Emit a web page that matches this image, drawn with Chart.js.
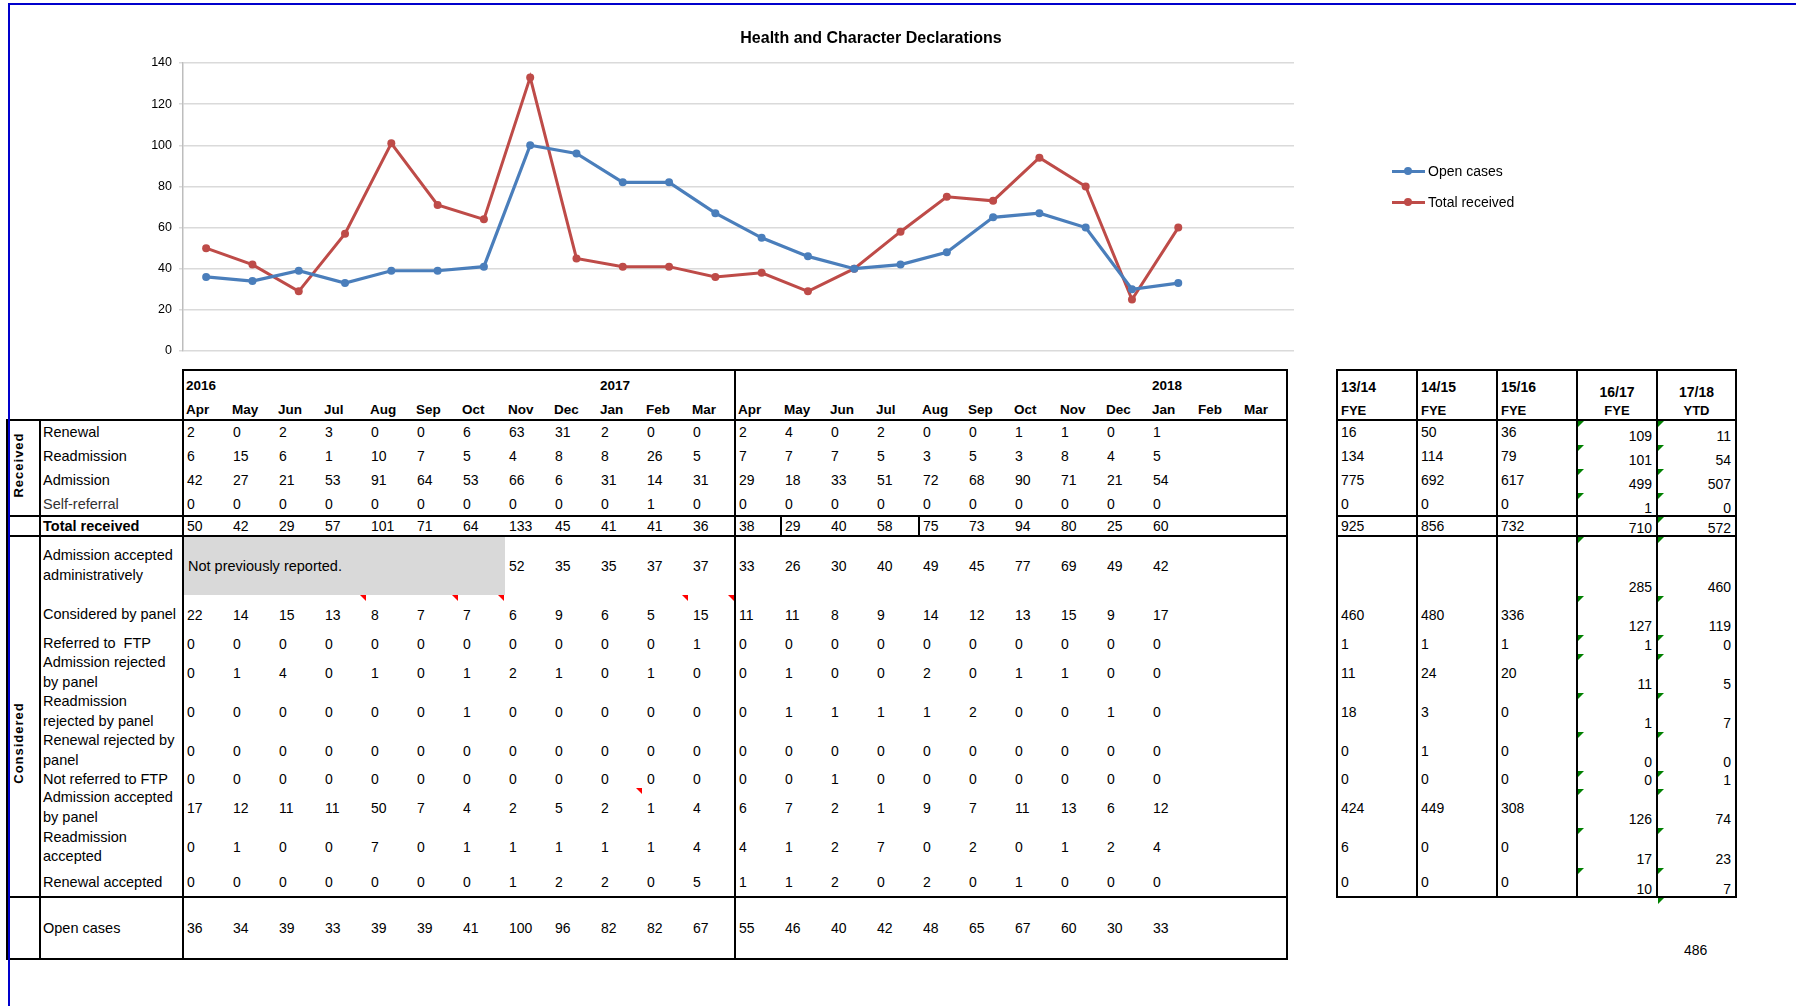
<!DOCTYPE html>
<html>
<head>
<meta charset="utf-8">
<title>Health and Character Declarations</title>
<script src="https://cdn.jsdelivr.net/npm/chart.js@4.4.1/dist/chart.umd.min.js"></script>
<style>
  html, body { margin: 0; padding: 0; background: #fff; }
  body { width: 1796px; height: 1006px; overflow: hidden; position: relative;
         font-family: "Liberation Sans", Arial, sans-serif; color: #000; }
  #grafica { position: absolute; left: 0; top: 0; }
  .t { position: absolute; white-space: pre; font-size: 14px; line-height: 18px; }
  .b { font-weight: bold; }
  .ln { position: absolute; background: #000; }
</style>
</head>
<body>
<canvas id="grafica" width="1740" height="370"></canvas>
<div id="hoja"></div>

<script>
// --- Datos ---
const titulo = 'Health and Character Declarations';
const meses = ['Apr','May','Jun','Jul','Aug','Sep','Oct','Nov','Dec','Jan','Feb','Mar',
               'Apr','May','Jun','Jul','Aug','Sep','Oct','Nov','Dec','Jan','Feb','Mar'];
const anios = ['2016', '2017', '2018'];
const aniosCol = [0, 9, 21];   // columna donde va cada año

const openCases     = [36,34,39,33,39,39,41,100,96,82,82,67, 55,46,40,42,48,65,67,60,30,33];
const totalReceived = [50,42,29,57,101,71,64,133,45,41,41,36, 38,29,40,58,75,73,94,80,25,60];
const yTicks = [0, 20, 40, 60, 80, 100, 120, 140];

// filas de la tabla (Apr 2016 .. Jan 2018)
const renewal       = [2,0,2,3,0,0,6,63,31,2,0,0, 2,4,0,2,0,0,1,1,0,1];
const readmission   = [6,15,6,1,10,7,5,4,8,8,26,5, 7,7,7,5,3,5,3,8,4,5];
const admission     = [42,27,21,53,91,64,53,66,6,31,14,31, 29,18,33,51,72,68,90,71,21,54];
const selfReferral  = [0,0,0,0,0,0,0,0,0,0,1,0, 0,0,0,0,0,0,0,0,0,0];
const admAdmin      = [null,null,null,null,null,null,null,52,35,35,37,37, 33,26,30,40,49,45,77,69,49,42];
const consPanel     = [22,14,15,13,8,7,7,6,9,6,5,15, 11,11,8,9,14,12,13,15,9,17];
const referredFTP   = [0,0,0,0,0,0,0,0,0,0,0,1, 0,0,0,0,0,0,0,0,0,0];
const admRejected   = [0,1,4,0,1,0,1,2,1,0,1,0, 0,1,0,0,2,0,1,1,0,0];
const readmRejected = [0,0,0,0,0,0,1,0,0,0,0,0, 0,1,1,1,1,2,0,0,1,0];
const renRejected   = [0,0,0,0,0,0,0,0,0,0,0,0, 0,0,0,0,0,0,0,0,0,0];
const notReferred   = [0,0,0,0,0,0,0,0,0,0,0,0, 0,0,1,0,0,0,0,0,0,0];
const admAccepted   = [17,12,11,11,50,7,4,2,5,2,1,4, 6,7,2,1,9,7,11,13,6,12];
const readmAccepted = [0,1,0,0,7,0,1,1,1,1,1,4, 4,1,2,7,0,2,0,1,2,4];
const renAccepted   = [0,0,0,0,0,0,0,1,2,2,0,5, 1,1,2,0,2,0,1,0,0,0];

const etiquetas = ['Renewal','Readmission','Admission','Self-referral','Total received',
  'Admission accepted\nadministratively','Considered by panel','Referred to  FTP',
  'Admission rejected\nby panel','Readmission\nrejected by panel','Renewal rejected by\npanel',
  'Not referred to FTP','Admission accepted\nby panel','Readmission\naccepted',
  'Renewal accepted','Open cases'];
const valoresFilas = [renewal, readmission, admission, selfReferral, totalReceived,
  admAdmin, consPanel, referredFTP, admRejected, readmRejected, renRejected,
  notReferred, admAccepted, readmAccepted, renAccepted, openCases];
const textoGris = 'Not previously reported.';

// tabla de totales anuales
const colsFYE = ['13/14','14/15','15/16','16/17','17/18'];
const subFYE  = ['FYE','FYE','FYE','FYE','YTD'];
const fye1314 = [16,134,775,0,925,null,460,1,11,18,0,0,424,6,0];
const fye1415 = [50,114,692,0,856,null,480,1,24,3,1,0,449,0,0];
const fye1516 = [36,79,617,0,732,null,336,1,20,0,0,0,308,0,0];
const fye1617 = [109,101,499,1,710,285,127,1,11,1,0,0,126,17,10];
const ytd1718 = [11,54,507,0,572,460,119,0,5,7,0,1,74,23,7];
const notaYTD = '486';

// --- Layout (px) ---
const colX0 = 183, colW = 46;
const filaY = [420,444,468,492,516,536,595,634,653,692,731,770,788,827,867,897,959];
const colsR = [1337,1417,1497,1577,1657,1736];
const comentariosRojos = [[6,3],[6,5],[6,6],[6,10],[6,11],[12,9]]; // [fila, columna]

const hoja = document.getElementById('hoja');

function txt(x, y, s, cls, extra) {
    const d = document.createElement('div');
    d.className = 't' + (cls ? ' ' + cls : '');
    d.textContent = s;
    d.style.left = x + 'px';
    d.style.top = y + 'px';
    if (extra) Object.assign(d.style, extra);
    hoja.appendChild(d);
    return d;
}

function linea(x, y, w, h, color) {
    const d = document.createElement('div');
    d.className = 'ln';
    d.style.left = x + 'px';
    d.style.top = y + 'px';
    d.style.width = w + 'px';
    d.style.height = h + 'px';
    if (color) d.style.background = color;
    hoja.appendChild(d);
}

function triangulo(x, y, color, haciaIzq) {
    const d = document.createElement('div');
    d.style.position = 'absolute';
    d.style.left = x + 'px';
    d.style.top = y + 'px';
    d.style.width = '0';
    d.style.height = '0';
    d.style.borderTop = '6px solid ' + color;
    if (haciaIzq) d.style.borderLeft = '6px solid transparent';
    else d.style.borderRight = '6px solid transparent';
    hoja.appendChild(d);
}

// --- Gráfica ---
Chart.defaults.font.family = "'Liberation Sans', Arial, sans-serif";
Chart.defaults.color = '#000';

const chart = new Chart(document.getElementById('grafica').getContext('2d'), {
    type: 'line',
    data: {
        labels: meses,
        datasets: [{
            label: 'Open cases',
            data: openCases,
            borderColor: '#4a7ebb',
            backgroundColor: '#4a7ebb',
            borderWidth: 3.2,
            pointRadius: 4,
            pointBorderWidth: 0,
            pointHoverRadius: 4,
            tension: 0
        }, {
            label: 'Total received',
            data: totalReceived,
            borderColor: '#be4b48',
            backgroundColor: '#be4b48',
            borderWidth: 3,
            pointRadius: 4,
            pointBorderWidth: 0,
            pointHoverRadius: 4,
            tension: 0
        }]
    },
    options: {
        responsive: false,
        animation: false,
        devicePixelRatio: 1,
        layout: { padding: { left: 143, top: 63, right: 446, bottom: 19 } },
        plugins: {
            legend: { display: false },
            title: { display: false },
            tooltip: { enabled: false }
        },
        scales: {
            x: { offset: true, display: false },
            y: {
                min: yTicks[0],
                max: yTicks[yTicks.length - 1],
                afterBuildTicks: (s) => { s.ticks = yTicks.map(v => ({ value: v })); },
                afterFit: (s) => { s.width = 40; },
                ticks: { font: { size: 12.5 }, padding: 7, color: '#000' },
                grid: { color: '#dadada', lineWidth: 1.5, tickLength: 4 },
                border: { color: '#bdbdbd', width: 1.5 }
            }
        }
    }
});

// titulo y leyenda
txt(871, 29, titulo, 'b', { fontSize: '16px', transform: 'translateX(-50%)' });
chart.data.datasets.forEach((ds, i) => {
    const y = 171 + i * 31;
    linea(1392, y - 1.5, 33, 3, ds.borderColor);
    const p = document.createElement('div');
    Object.assign(p.style, { position: 'absolute', left: '1404px', top: (y - 4) + 'px',
        width: '8px', height: '8px', borderRadius: '50%', background: ds.borderColor });
    hoja.appendChild(p);
    txt(1428, y - 9, ds.label);
});

// --- Tabla mensual ---
// caja gris "not previously reported"
linea(184, 537, 321, 58, '#d9d9d9');
txt(188, 566 - 9, textoGris, '', { fontSize: '14.5px' });

anios.forEach((a, i) => txt(colX0 + aniosCol[i] * colW + 3, 386 - 9, a, 'b', { fontSize: '13.5px' }));
meses.forEach((m, i) => txt(colX0 + i * colW + 3, 410 - 9, m, 'b', { fontSize: '13.5px' }));

etiquetas.forEach((et, r) => {
    const cy = (filaY[r] + filaY[r + 1]) / 2;
    const dosLineas = et.indexOf('\n') >= 0;
    txt(43, dosLineas ? cy - 19.5 : cy - 9.5, et, r === 4 ? 'b' : '',
        { fontSize: '14.5px', lineHeight: dosLineas ? '19.5px' : '19px', color: r === 3 ? '#333' : '#000' });
    valoresFilas[r].forEach((v, c) => {
        if (v === null) return;
        txt(colX0 + c * colW + 4, cy - 9, String(v));
    });
});

// etiquetas verticales
txt(19, 465, 'Received', 'b', { fontSize: '13px', letterSpacing: '1px', transform: 'translate(-50%,-50%) rotate(-90deg)' });
txt(19, 743, 'Considered', 'b', { fontSize: '13px', letterSpacing: '1px', transform: 'translate(-50%,-50%) rotate(-90deg)' });

// bordes
linea(182, 369, 1106, 2);
[420, 516, 536, 897, 959].forEach(y => linea(6, y - 1, 1282, 2));
[183, 735, 1287].forEach(x => linea(x - 1, 369, 2, 591));
[40, 7].forEach(x => linea(x - 1, 419, 2, 541));
[colX0 + 13 * colW, colX0 + 16 * colW].forEach(x => linea(x - 1, 516, 2, 20));

comentariosRojos.forEach(([r, c]) => triangulo(colX0 + (c + 1) * colW - 7, filaY[r], '#ff0000', true));

// --- Tabla de totales ---
const colsValores = [fye1314, fye1415, fye1516, fye1617, ytd1718];
colsFYE.forEach((h, i) => {
    const x0 = colsR[i], x1 = colsR[i + 1];
    if (i < 3) {
        txt(x0 + 4, 387 - 9, h, 'b', { fontSize: '14px' });
        txt(x0 + 4, 411 - 9, subFYE[i], 'b', { fontSize: '13px' });
    } else {
        txt(x0, 392 - 9, h, 'b', { fontSize: '14px', width: (x1 - x0) + 'px', textAlign: 'center' });
        txt(x0, 411 - 9, subFYE[i], 'b', { fontSize: '13px', width: (x1 - x0) + 'px', textAlign: 'center' });
    }
    colsValores[i].forEach((v, r) => {
        if (v === null) return;
        if (i < 3) {
            const cy = (filaY[r] + filaY[r + 1]) / 2;
            txt(x0 + 4, cy - 9, String(v));
        } else {
            txt(x0, filaY[r + 1] - 17, String(v), '', { width: (x1 - x0 - 5) + 'px', textAlign: 'right' });
        }
    });
});
txt(1684, 950 - 9, notaYTD);

colsR.forEach(x => linea(x - 1, 369, 2, 529));
[370, 420, 516, 536, 897].forEach(y => linea(1336, y - 1, colsR[5] - 1335, 2));

// triangulos verdes
for (let r = 0; r < 15; r++) {
    if (r !== 4) triangulo(colsR[3] + 1, filaY[r] + 1, '#008000', false);
    triangulo(colsR[4] + 1, filaY[r] + 1, '#008000', false);
}
triangulo(colsR[4] + 1, filaY[15] + 1, '#008000', false);

// marco azul
linea(9, 3, 1787, 2, '#0000cc');
linea(8, 3, 2, 1003, '#0000cc');
</script>
</body>
</html>
